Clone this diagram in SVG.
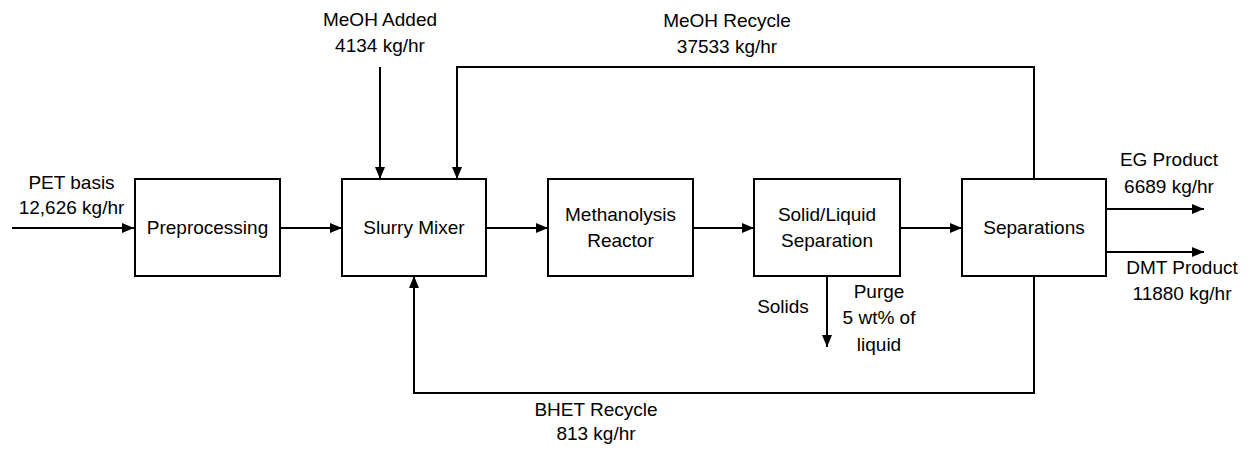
<svg xmlns="http://www.w3.org/2000/svg" width="1253" height="450" viewBox="0 0 1253 450">
<style>
text{font-family:"Liberation Sans",Arial,sans-serif;font-size:19px;fill:#000;text-anchor:middle}
.box{fill:#fff;stroke:#000;stroke-width:2}
.c{fill:none;stroke:#000;stroke-width:2}
</style>
<defs>
<marker id="ah" markerUnits="userSpaceOnUse" markerWidth="12" markerHeight="12" refX="12" refY="6" orient="auto">
<path d="M0,1 L12,6 L0,11 z" fill="#000"/>
</marker>
</defs>
<rect width="1253" height="450" fill="#fff"/>
<g id="connectors">
<path class="c" d="M12,228 H134" marker-end="url(#ah)"/>
<path class="c" d="M280,228 H342" marker-end="url(#ah)"/>
<path class="c" d="M486,228 H548" marker-end="url(#ah)"/>
<path class="c" d="M693,228 H754" marker-end="url(#ah)"/>
<path class="c" d="M900,228 H962" marker-end="url(#ah)"/>
<path class="c" d="M380,67 V179" marker-end="url(#ah)"/>
<path class="c" d="M1034,179 V67 H457 V179" marker-end="url(#ah)"/>
<path class="c" d="M1034,276 V393 H414 V276" marker-end="url(#ah)"/>
<path class="c" d="M827,276 V347" marker-end="url(#ah)"/>
<path class="c" d="M1106,209 H1204" marker-end="url(#ah)"/>
<path class="c" d="M1106,252 H1204" marker-end="url(#ah)"/>
<text x="71.5" y="189">PET basis</text>
<text x="71.5" y="214">12,626 kg/hr</text>
<text x="380" y="26">MeOH Added</text>
<text x="380" y="52">4134 kg/hr</text>
<text x="727" y="26.5">MeOH Recycle</text>
<text x="727" y="53">37533 kg/hr</text>
<text x="596" y="415.5">BHET Recycle</text>
<text x="596" y="440">813 kg/hr</text>
<text x="783" y="312.5">Solids</text>
<text x="879" y="297.5">Purge</text>
<text x="879" y="324">5 wt% of</text>
<text x="879" y="350.5">liquid</text>
<text x="1169" y="166">EG Product</text>
<text x="1169" y="192.5">6689 kg/hr</text>
<text x="1182" y="274">DMT Product</text>
<text x="1182" y="300">11880 kg/hr</text>
</g>
<g id="preprocessing">
<rect class="box" x="135" y="179" width="145" height="97"/>
<text x="207.5" y="234">Preprocessing</text>
</g>
<g id="slurry-mixer">
<rect class="box" x="342" y="179" width="144" height="97"/>
<text x="414" y="234">Slurry Mixer</text>
</g>
<g id="methanolysis-reactor">
<rect class="box" x="548" y="179" width="145" height="97"/>
<text x="620.5" y="220.5">Methanolysis</text>
<text x="620.5" y="246.5">Reactor</text>
</g>
<g id="solid-liquid-separation">
<rect class="box" x="754" y="179" width="146" height="97"/>
<text x="827" y="220.5">Solid/Liquid</text>
<text x="827" y="246.5">Separation</text>
</g>
<g id="separations">
<rect class="box" x="962" y="179" width="144" height="97"/>
<text x="1034" y="234">Separations</text>
</g>
</svg>
